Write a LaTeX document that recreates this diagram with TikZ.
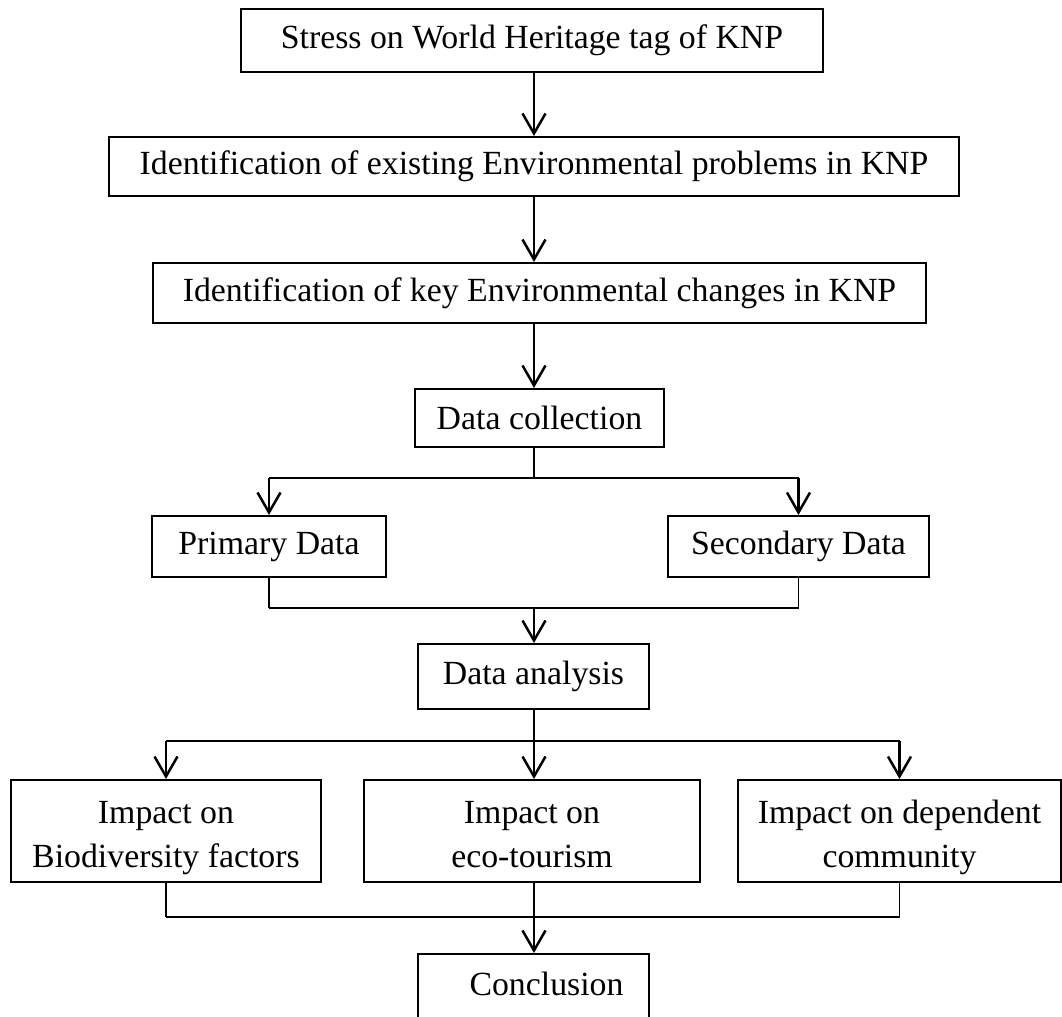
\documentclass[tikz,border=0pt]{standalone}
\usepackage{fontspec}
\setmainfont{Liberation Serif}
\usepackage{tikz}
\usetikzlibrary{arrows.meta,calc}

\begin{document}
\begin{tikzpicture}[x=0.5pt,y=-0.5pt,
    box/.style={draw,line width=1pt,inner sep=0pt,align=center,
      font=\fontsize{16.9}{22}\selectfont},
    impact/.style={box,minimum height=51pt,text height=40pt,text depth=4pt},
    link/.style={line width=0.75pt},
    bar/.style={line width=1.25pt},
    arr/.style={line width=1.25pt,-{Straight Barb[length=10pt,width=11.5pt]}}]
      \clip (0,0) rectangle (1062,1017);
      % main column
      \node[box,minimum width=291pt,minimum height=31.5pt] (stress) at (532,40.5)
        {Stress on World Heritage tag of KNP};
      \node[box,minimum width=425pt,minimum height=29.5pt] (problems) at (534,166.5)
        {Identification of existing Environmental problems in KNP};
      \node[box,minimum width=386.5pt,minimum height=30pt] (changes) at (539.5,293)
        {Identification of key Environmental changes in KNP};
      \node[box,minimum width=124.5pt,minimum height=29pt] (collect) at (539.5,418)
        {Data collection};
      \node[box,minimum width=117pt,minimum height=30.5pt] (primary) at (269,546.5)
        {Primary Data};
      \node[box,minimum width=130.5pt,minimum height=30.5pt] (secondary) at (798.5,546.5)
        {Secondary Data};
      \node[box,minimum width=115.5pt,minimum height=32.5pt] (analysis) at (533.5,676.5)
        {Data analysis};
      \node[impact,minimum width=155pt] (bio) at (166,831)
        {Impact on\\Biodiversity factors};
      \node[impact,minimum width=168pt] (eco) at (532,831)
        {Impact on\\eco-tourism};
      \node[impact,minimum width=161.5pt] (dep) at (899.5,831)
        {Impact on dependent\\community};
      \node[box,minimum width=115.5pt,minimum height=35pt,
        text height=12pt,text depth=6pt] (concl) at (533.5,989)
        {\hspace*{13pt}Conclusion};

      \coordinate (trunk) at (534,0);
      \coordinate (split1) at (534,478);
      \coordinate (join1) at (534,608);
      \coordinate (split2) at (534,741);
      \coordinate (join2) at (534,917);

      \draw[arr] (stress.south -| trunk) -- (problems.north -| trunk);
      \draw[arr] (problems.south -| trunk) -- (changes.north -| trunk);
      \draw[arr] (changes.south -| trunk) -- (collect.north -| trunk);
      % branch to data sources
      \draw[link] (collect.south -| trunk) -- (split1);
      \draw[bar] (split1) -- (split1 -| primary.north);
      \draw[bar] (split1) -- (split1 -| secondary.north);
      \draw[arr] (split1 -| primary.north) -- (primary.north);
      \draw[arr] (split1 -| secondary.north) -- (secondary.north);
      \draw[link] (primary.south) -- (join1 -| primary.south);
      \draw[link] (secondary.south) -- (join1 -| secondary.south);
      \draw[bar] (join1 -| primary.south) -- (join1 -| secondary.south);
      \draw[arr] (join1) -- (analysis.north -| trunk);
      % branch to impacts
      \draw[link] (analysis.south -| trunk) -- (split2);
      \draw[bar] (split2 -| bio.north) -- (split2 -| dep.north);
      \draw[arr] (split2 -| bio.north) -- (bio.north);
      \draw[arr] (split2) -- (eco.north -| trunk);
      \draw[arr] (split2 -| dep.north) -- (dep.north);
      \draw[link] (bio.south) -- (join2 -| bio.south);
      \draw[link] (eco.south -| trunk) -- (join2);
      \draw[link] (dep.south) -- (join2 -| dep.south);
      \draw[bar] (join2 -| bio.south) -- (join2 -| dep.south);
      \draw[arr] (join2) -- (concl.north -| trunk);
    \end{tikzpicture}
\end{document}
